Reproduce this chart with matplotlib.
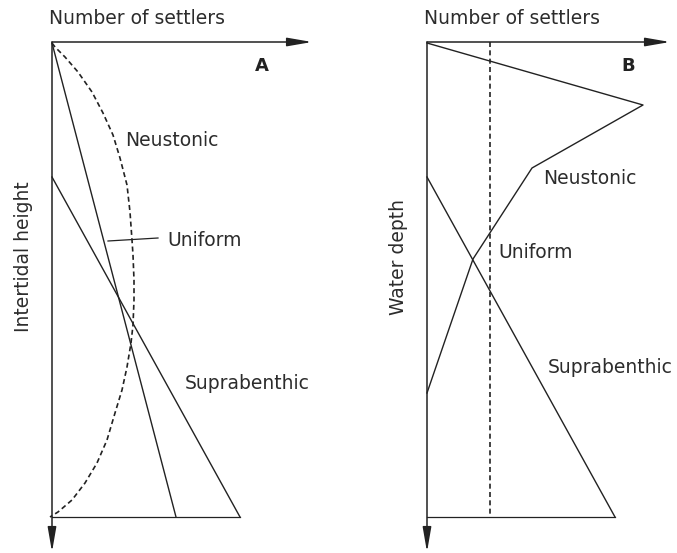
import numpy as np
import matplotlib
matplotlib.use('Agg')
import matplotlib.pyplot as plt

plt.rcParams['font.family'] = ['DejaVu Sans']

# panel A: settlers vs intertidal height (units measured from axis origin)
neust_a_x = [0, 3, 13, 26, 40, 51, 61, 68, 75, 78, 80, 81, 82, 82, 81, 79, 75, 70, 63, 55, 45, 33, 20, 6, -2]
neust_a_y = [1, 5, 15, 30, 50, 71, 93, 116, 143, 170, 198, 213, 238, 258, 283, 301, 325, 348, 371, 398, 421, 441, 458, 470, 475]
unif_a_x = [0, 124]
unif_a_y = [1, 475]
supra_a_x = [0, 188]
supra_a_y = [135, 475]

# panel B: settlers vs water depth
neust_b_x = [0, 216, 105, 46, 0]
neust_b_y = [1, 63, 126, 217, 351]
unif_b_x = [63, 63]
unif_b_y = [0, 475]
supra_b_x = [0, 188]
supra_b_y = [135, 475]

bottom = 475
ink = '#222222'
txt = '#2c2c2c'
W, H = 677, 553

fig = plt.figure(figsize=(W / 100, H / 100), dpi=100)
axA = fig.add_axes([0, 0, 338 / W, 1])
axB = fig.add_axes([338 / W, 0, 339 / W, 1])
axA.set_xlim(-52, 286)
axB.set_xlim(-89, 250)
for ax in (axA, axB):
    ax.set_ylim(511, -42)
    ax.axis('off')

arrow_kw = dict(arrowstyle='-|>,head_length=0.75,head_width=0.13', color=ink,
                lw=1.1, shrinkA=0, shrinkB=0, mutation_scale=20)


def draw_axes(ax, x_tip, label, letter, letter_x):
    ax.annotate('', xy=(x_tip, 0), xytext=(0, 0), arrowprops=arrow_kw)
    ax.annotate('', xy=(0, 510), xytext=(0, 0), arrowprops=arrow_kw)
    ax.plot([0, 188], [bottom, bottom], color=ink, lw=0.9)
    ax.text(-3, -24, 'Number of settlers', fontsize=13.5, color=txt,
            ha='left', va='center')
    ax.text(letter_x, 24, letter, fontsize=13, fontweight='bold', color=ink,
            ha='center', va='center')
    ax.text(-28, 215, label, fontsize=13.5, color=txt, rotation=90,
            ha='center', va='center')


draw_axes(axA, 260, 'Intertidal height', 'A', 210)
draw_axes(axB, 243, 'Water depth', 'B', 201)

# panel A curves
axA.plot(neust_a_x, neust_a_y, color=ink, lw=1.2, ls=(0, (3, 2)))
axA.plot(unif_a_x, unif_a_y, color=ink, lw=1.0)
axA.plot(supra_a_x, supra_a_y, color=ink, lw=1.0)
axA.plot([56, 106], [199, 196], color=ink, lw=0.9)
axA.text(73, 98, 'Neustonic', fontsize=13.5, color=txt, va='center')
axA.text(115, 198, 'Uniform', fontsize=13.5, color=txt, va='center')
axA.text(133, 341, 'Suprabenthic', fontsize=13.5, color=txt, va='center')

# panel B curves
axB.plot(neust_b_x, neust_b_y, color=ink, lw=1.0)
axB.plot(unif_b_x, unif_b_y, color=ink, lw=1.2, ls=(0, (3, 2)))
axB.plot(supra_b_x, supra_b_y, color=ink, lw=1.0)
axB.text(116, 136, 'Neustonic', fontsize=13.5, color=txt, va='center')
axB.text(71, 210, 'Uniform', fontsize=13.5, color=txt, va='center')
axB.text(121, 325, 'Suprabenthic', fontsize=13.5, color=txt, va='center')

fig.savefig('out.png', dpi=100)
